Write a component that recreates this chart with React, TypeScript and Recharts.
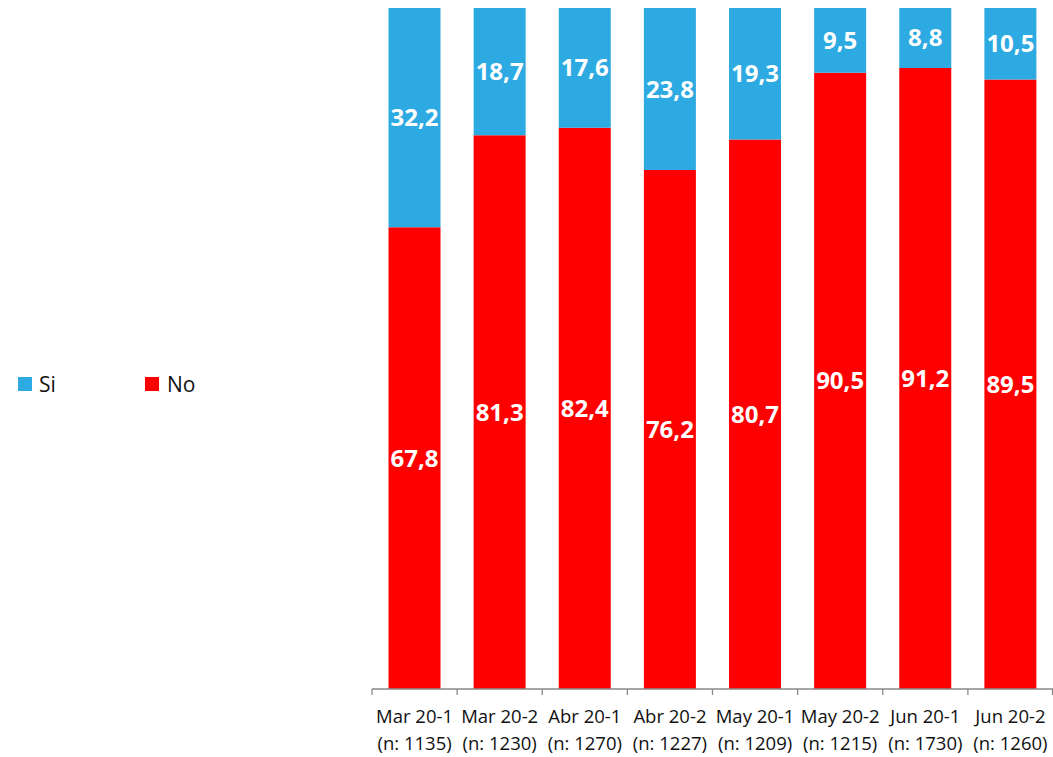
import React from "react";
import { BarChart, Bar, XAxis, YAxis, LabelList } from "recharts";

const categories = ["Mar 20-1", "Mar 20-2", "Abr 20-1", "Abr 20-2", "May 20-1", "May 20-2", "Jun 20-1", "Jun 20-2"];
const sampleSizes = ["(n: 1135)", "(n: 1230)", "(n: 1270)", "(n: 1227)", "(n: 1209)", "(n: 1215)", "(n: 1730)", "(n: 1260)"];
const siValues = [32.2, 18.7, 17.6, 23.8, 19.3, 9.5, 8.8, 10.5];
const noValues = [67.8, 81.3, 82.4, 76.2, 80.7, 90.5, 91.2, 89.5];

const data = categories.map((c, i) => ({ name: c, n: sampleSizes[i], si: siValues[i], no: noValues[i] }));

const BLUE = "#2DAAE1";
const RED = "#FF0000";
const AXIS = "#898989";
const FONT = "'Open Sans', sans-serif";

const fmt = (v: any) => Number(v).toFixed(1).replace(".", ",");

const Tick = (props: any) => {
  const { x, y, payload, index, visibleTicksCount } = props;
  const half = payload && payload.offset ? payload.offset : 42.56;
  const last = index === (visibleTicksCount ?? categories.length) - 1;
  const ay = y - 8;
  return (
    <g>
      <line x1={x - half} x2={x - half} y1={ay} y2={ay + 6} stroke={AXIS} strokeWidth={1.3} />
      {last && <line x1={x + half - 0.5} x2={x + half - 0.5} y1={ay} y2={ay + 6} stroke={AXIS} strokeWidth={1.3} />}
      <text x={x} y={ay + 34} textAnchor="middle" fontFamily={FONT} fontSize={18.5} fill="#111">
        {payload.value}
      </text>
      <text x={x} y={ay + 61} textAnchor="middle" fontFamily={FONT} fontSize={18.5} fill="#111">
        {sampleSizes[index]}
      </text>
    </g>
  );
};

const LegendBox = () => (
  <div style={{ position: "absolute", left: 18, top: 370, display: "flex", alignItems: "center", fontFamily: FONT, fontSize: 21, color: "#111" }}>
    <span style={{ display: "inline-block", width: 14, height: 14, background: BLUE, marginRight: 7 }} />
    <span style={{ width: 106 }}>Si</span>
    <span style={{ display: "inline-block", width: 14, height: 14, background: RED, marginRight: 8 }} />
    <span>No</span>
  </div>
);

export default function App() {
  return (
    <div style={{ position: "absolute", left: 0, top: 0, width: 1053, height: 757, background: "#fff" }}>
      <LegendBox />
      <BarChart
        width={1053}
        height={757}
        data={data}
        margin={{ top: 8, right: 0, bottom: 0, left: 372 }}
        barCategoryGap="19.4%"
      >
        <YAxis hide domain={[0, 100]} type="number" />
        <XAxis
          dataKey="name"
          axisLine={{ stroke: AXIS, strokeWidth: 1.3 }}
          tickLine={false}
          interval={0}
          tick={<Tick />}
          height={68}
        />
        <Bar dataKey="no" stackId="a" fill={RED} isAnimationActive={false}>
          <LabelList dataKey="no" position="center" formatter={fmt} fill="#fff" fontFamily={FONT} fontSize={24} fontWeight="bold" />
        </Bar>
        <Bar dataKey="si" stackId="a" fill={BLUE} isAnimationActive={false}>
          <LabelList dataKey="si" position="center" formatter={fmt} fill="#fff" fontFamily={FONT} fontSize={24} fontWeight="bold" />
        </Bar>
      </BarChart>
    </div>
  );
}
